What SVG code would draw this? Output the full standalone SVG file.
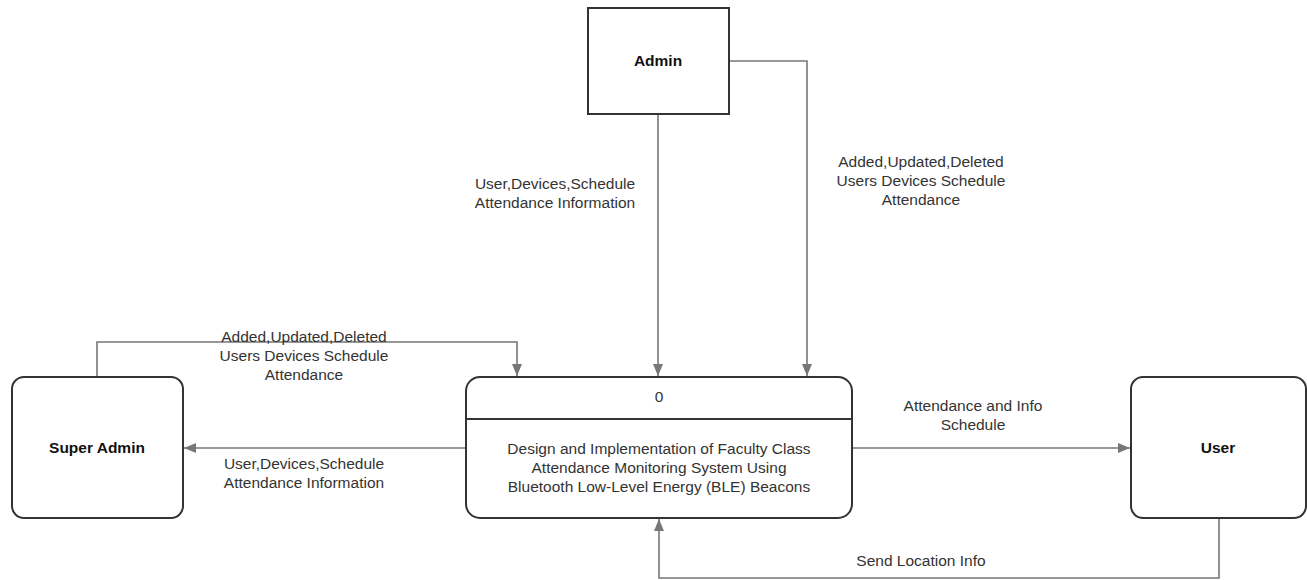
<svg xmlns="http://www.w3.org/2000/svg" width="1307" height="580" viewBox="0 0 1307 580">
<style>
.box{fill:#fff;stroke:#333;stroke-width:2}
.conn{fill:none;stroke:#777;stroke-width:1.6}
text{font-family:"Liberation Sans",Arial,sans-serif;font-size:15.5px;fill:#333;text-anchor:middle}
.bold{font-weight:bold;fill:#111}
</style>
<defs>
<marker id="arr" viewBox="0 0 12 10" refX="12" refY="5" markerWidth="12" markerHeight="10" markerUnits="userSpaceOnUse" orient="auto">
<path d="M0,0 L12,5 L0,10 z" fill="#777"/>
</marker>
</defs>
<rect width="1307" height="580" fill="#fff"/>
<g id="connectors">
<path class="conn" d="M658,114 V376" marker-end="url(#arr)"/>
<path class="conn" d="M729,61 H807 V376" marker-end="url(#arr)"/>
<path class="conn" d="M97,377 V342 H517 V376" marker-end="url(#arr)"/>
<path class="conn" d="M466,448 H184" marker-end="url(#arr)"/>
<path class="conn" d="M852,448 H1130" marker-end="url(#arr)"/>
<path class="conn" d="M1219,518 V578 H659 V519" marker-end="url(#arr)"/>
</g>
<g id="labels">
<text x="555" y="189">User,Devices,Schedule</text>
<text x="555" y="208">Attendance Information</text>
<text x="921" y="167">Added,Updated,Deleted</text>
<text x="921" y="186">Users Devices Schedule</text>
<text x="921" y="205">Attendance</text>
<text x="304" y="342">Added,Updated,Deleted</text>
<text x="304" y="361">Users Devices Schedule</text>
<text x="304" y="380">Attendance</text>
<text x="304" y="469">User,Devices,Schedule</text>
<text x="304" y="488">Attendance Information</text>
<text x="973" y="411">Attendance and Info</text>
<text x="973" y="430">Schedule</text>
<text x="921" y="566">Send Location Info</text>
</g>
<g id="admin">
<rect class="box" x="588" y="8" width="141" height="106"/>
<text class="bold" x="658" y="66">Admin</text>
</g>
<g id="process">
<rect class="box" x="466" y="377" width="386" height="141" rx="14"/>
<line x1="466" y1="419" x2="852" y2="419" stroke="#333" stroke-width="2"/>
<text x="659" y="402">0</text>
<text x="659" y="454">Design and Implementation of Faculty Class</text>
<text x="659" y="473">Attendance Monitoring System Using</text>
<text x="659" y="492">Bluetooth Low-Level Energy (BLE) Beacons</text>
</g>
<g id="superadmin">
<rect class="box" x="12" y="377" width="171" height="141" rx="12"/>
<text class="bold" x="97" y="453">Super Admin</text>
</g>
<g id="user">
<rect class="box" x="1131" y="377" width="175" height="141" rx="12"/>
<text class="bold" x="1218" y="453">User</text>
</g>
</svg>
